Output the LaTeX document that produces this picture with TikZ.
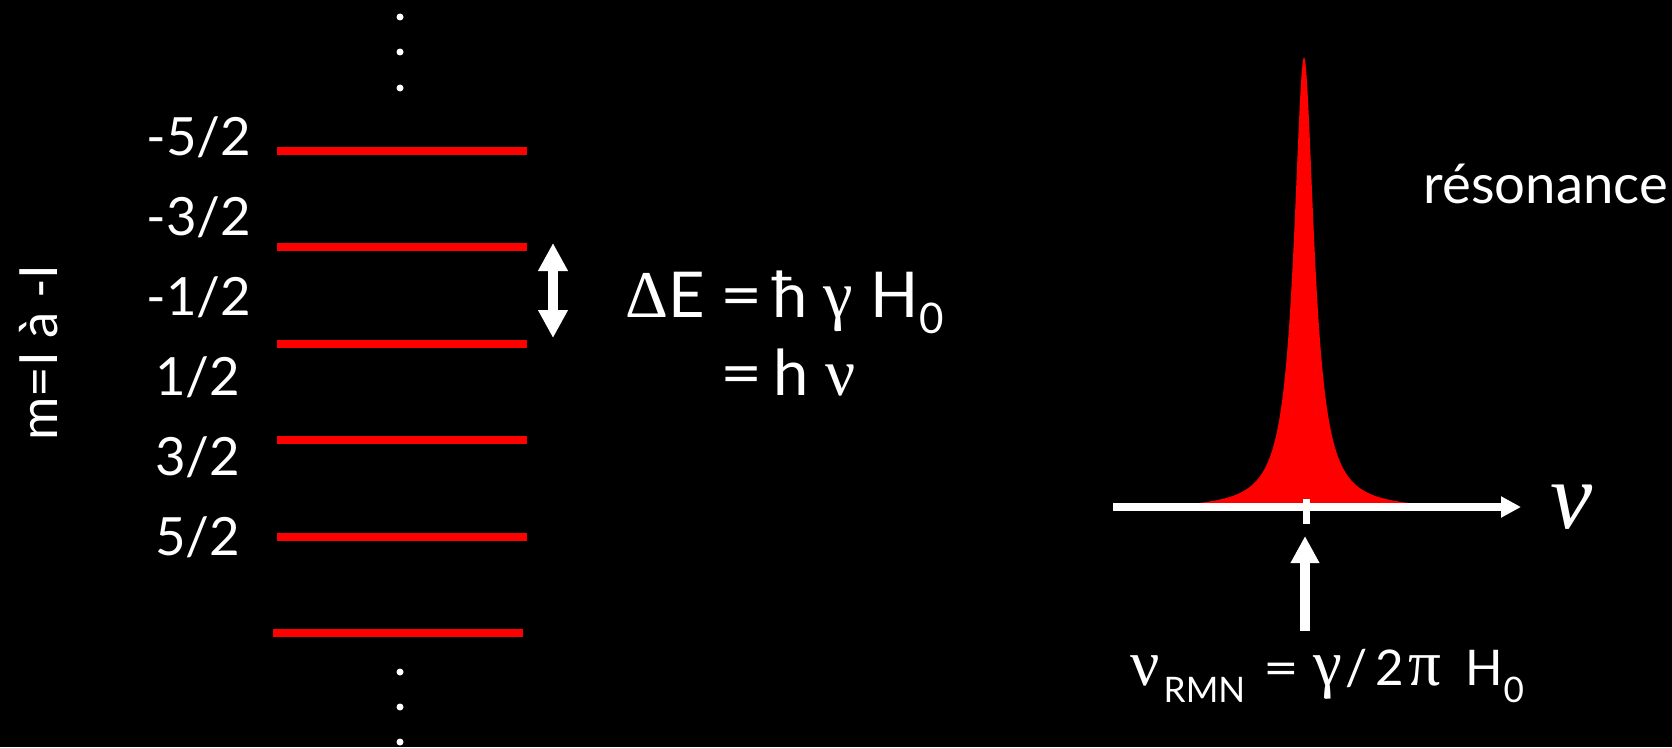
\documentclass[tikz,border=0pt]{standalone}
\usepackage{fontspec}
\setmainfont{Lato}
\newfontfamily\grk{Liberation Serif}
\usetikzlibrary{arrows.meta}
\newcommand{\gk}[2]{{\grk\fontsize{#1}{#1}\selectfont #2}}
\newcommand{\indice}[3]{\raisebox{-#1}{\fontsize{#2}{#2}\selectfont #3}}
\newcommand{\tb}[2]{\makebox[#1][l]{#2}}

\begin{document}
\begin{tikzpicture}[
  font=\fontsize{15}{18}\selectfont,
  every node/.style={text=white,inner sep=0pt},
  niveau/.style={red,line width=2.3pt},
  point/.style={white},
  fleche/.style={white,line width=2.8pt,
    {Triangle[length=2.8mm,width=2.8mm]}-{Triangle[length=2.8mm,width=2.8mm]}},
  montee/.style={white,line width=2.8pt,-{Triangle[length=2.7mm,width=2.7mm]}},
  axe/.style={white,line width=2pt,-{Triangle[length=2mm,width=2mm]}},
]
  \path[use as bounding box,fill=black] (0,0) rectangle (16.72,7.47);

  % niveaux Zeeman
  \foreach \y [count=\i] in {5.96,5.00,4.03,3.07,2.10}
    \draw[niveau] (2.77,\y) coordinate (n\i) -- (5.27,\y);
  \draw[niveau] (2.73,1.14) coordinate (n6) -- (5.23,1.14);

  \foreach \num/\y [count=\i] in {-5/5.92,-3/5.12,-1/4.32}
    \node[anchor=base east] (lab\i) at (2.52,\y) {\num/2};
  \foreach \num/\y [count=\i from 4] in {1/3.52,3/2.72,5/1.92}
    \node[anchor=base east] (lab\i) at (2.41,\y) {\num/2};

  \foreach \y in {7.30,6.95,6.59,0.75,0.40,0.05}
    \fill[point] (4.00,\y) circle (0.035);

  \node[rotate=90,anchor=base] (mlab) at (0.57,3.945) {m=I à -I};

  % ecart entre deux niveaux
  \coordinate (dEbas) at (5.53,4.09);
  \coordinate (dEhaut) at (5.53,5.04);
  \draw[fleche] (dEbas) -- (dEhaut);

  \node[anchor=base west,font=\fontsize{18}{20}\selectfont] (dE) at (6.25,4.30)
    {\tb{0.95cm}{\gk{19}{Δ}E}\tb{0.52cm}{\scalebox{1.15}[1]{=}}\tb{0.51cm}{ħ}\tb{0.47cm}{\gk{19}{γ}}H\indice{0.16cm}{12}{0}};
  \node[anchor=base west,font=\fontsize{18}{20}\selectfont] (hnu) at (7.20,3.52)
    {\tb{0.53cm}{\scalebox{1.15}[1]{=}}\tb{0.52cm}{h}\gk{19}{ν}};

  % raie de resonance
  \fill[red] plot[domain=-1.05:1.05,samples=201]
    ({13.04+\x},{2.38+4.52/(1+(\x/0.123)^2)}) -- cycle;
  \coordinate (axeG) at (11.13,2.40);
  \coordinate (axeD) at (15.21,2.40);
  \draw[axe] (axeG) -- (axeD);
  \draw[white,line width=2pt] (13.065,2.48) -- (13.065,2.23) coordinate (pied);
  \node[anchor=base west,font=\fontsize{27}{28}\selectfont\grk\itshape] (nu) at (15.50,2.19) {ν};

  \node[anchor=base west,font=\fontsize{15.5}{18}\selectfont] (reso) at (14.23,5.44) {résonance};

  \coordinate (rmnbas) at (13.05,1.16);
  \coordinate (rmnhaut) at (13.05,2.11);
  \draw[montee] (rmnbas) -- (rmnhaut);

  \node[anchor=base west,font=\fontsize{14}{15}\selectfont] (rmn) at (11.30,0.62)
    {\tb{0.33cm}{\gk{18.5}{ν}}\tb{1.00cm}{\indice{0.17cm}{10}{RMN}}\tb{0.50cm}{\scalebox{1.25}[1]{=}}%
     \tb{0.32cm}{\gk{18.5}{γ}}\tb{0.30cm}{/}\tb{0.33cm}{2}\tb{0.57cm}{\gk{18.5}{π}}\tb{0.38cm}{H}\indice{0.17cm}{10}{0}};
\end{tikzpicture}
\end{document}
